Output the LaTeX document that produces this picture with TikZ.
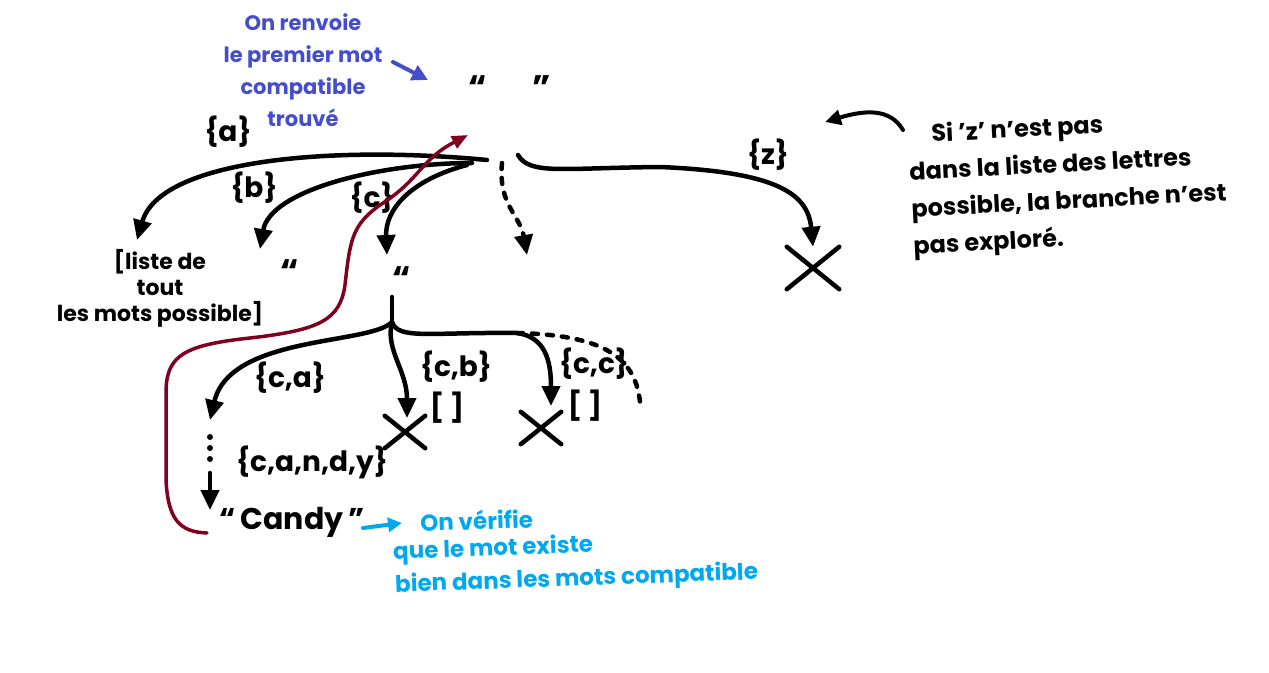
\documentclass[tikz,border=0pt]{standalone}
\usepackage{fontspec}
\setmainfont{Poppins}
\usetikzlibrary{arrows.meta,shapes.misc}
\definecolor{noteblue}{RGB}{68,78,205}
\definecolor{notecyan}{RGB}{0,168,240}
\definecolor{pathred}{RGB}{128,0,32}
\newcommand{\fs}[2]{\fontsize{#1}{#2}\selectfont\bfseries}
\tikzset{
  edge/.style={line width=4.5pt, line cap=round, -{Triangle[length=20pt,width=18pt]}},
  dotedge/.style={edge, dash pattern=on 6pt off 9pt},
  lbl/.style={font=\fs{28}{30}, inner sep=0pt},
  txt/.style={inner sep=0pt, align=center},
  cyantxt/.style={inner sep=0pt, anchor=west, rotate=2, text=notecyan, font=\fs{23}{26}},
  xmark/.style={cross out, draw, line width=4.5pt, line cap=round, inner sep=0pt},
  dotmark/.style={circle, fill, inner sep=0pt, minimum size=6pt}
}
\begin{document}
\begin{tikzpicture}[x=1pt,y=-1pt]
\useasboundingbox (0,0) rectangle (1269,672);
% root
\node[txt, font=\fs{34}{34}] (root) at (510,88) {“\hspace{46pt}”};
\coordinate (ra) at (487,160);
\coordinate (rb) at (472,163);
\coordinate (rc) at (467,165);
\coordinate (rd) at (502,163);
\coordinate (rz) at (518,155);
% children of root
\node[txt, font=\fs{22}{26}] (liste) at (160,288) {[liste de\\tout\\les mots possible]};
\coordinate (atip) at (137,240);
\node[txt, font=\fs{34}{34}] (bq) at (290,272) {“};
\coordinate (btip) at (260,249);
\node[txt, font=\fs{34}{34}] (cq) at (402,279) {“};
\coordinate (ctip) at (387,255);
\coordinate (dtip) at (527,255);
\node[xmark, minimum width=48pt, minimum height=38pt] (xz) at (813,268) {};
% labels top
\node[lbl] (la) at (228,132) {\{a\}};
\node[lbl] (lb) at (254,188) {\{b\}};
\node[lbl] (lc) at (372,198) {\{c\}};
\node[lbl] (lz) at (768,155) {\{z\}};
\draw[edge] (ra) .. controls (330,145) and (160,160) .. (atip);
\draw[edge] (rb) .. controls (380,163) and (270,190) .. (btip);
\draw[edge] (rc) .. controls (410,180) and (385,210) .. (ctip);
\draw[dotedge] (rd) .. controls (498,205) and (520,215) .. (dtip);
\draw[edge] (rz) .. controls (530,175) and (560,168) .. (660,167) .. controls (780,172) and (808,195) .. (xz.north);
% c subtree
\coordinate (ctop) at (392,297);
\coordinate (cj) at (392,322);
\draw[line width=4.5pt, line cap=round] (ctop) -- (cj);
\coordinate (catip) at (210,420);
\coordinate (cbtip) at (407,418);
\coordinate (cctip) at (551,406);
\coordinate (cdend) at (640,402);
\node[xmark, minimum width=36pt, minimum height=28pt] (xcb) at (405,432) {};
\node[xmark, minimum width=36pt, minimum height=28pt] (xcc) at (541,428) {};
\node[lbl] (bcb) at (447,408) {[ ]};
\node[lbl] (bcc) at (585,406) {[ ]};
\node[lbl] (lca) at (290,378) {\{c,a\}};
\node[lbl] (lcb) at (456,367) {\{c,b\}};
\node[lbl] (lcc) at (594,364) {\{c,c\}};
\draw[edge] (cj) .. controls (370,345) and (230,335) .. (catip);
\draw[edge] (cj) .. controls (385,350) and (407,370) .. (cbtip);
\draw[edge] (cj) .. controls (398,340) and (430,332) .. (517,333) .. controls (545,337) and (551,360) .. (cctip);
\draw[line width=4.5pt, line cap=round, dash pattern=on 6pt off 9pt] (517,333) .. controls (600,335) and (635,355) .. (cdend);
% dots and final arrow
\node[dotmark] (d1) at (210,437) {};
\node[dotmark] (d2) at (210,448) {};
\node[dotmark] (d3) at (210,459) {};
\coordinate (ftop) at (210,473);
\coordinate (ftip) at (210,510);
\draw[edge] (ftop) -- (ftip);
\node[lbl] (lcandy) at (312,462) {\{c,a,n,d,y\}};
\node[txt, font=\fs{30}{30}] (candy) at (292,522) {“\,Candy\,”};
% red path
\coordinate (rstart) at (207,533);
\coordinate (rtip) at (468,135);
\draw[pathred, line width=3.5pt, line cap=round, -{Triangle[length=16pt,width=13pt]}]
  (rstart) .. controls (180,532) and (168,520) .. (166,480)
  -- (166,390) .. controls (167,355) and (185,345) .. (250,338)
  .. controls (320,330) and (340,320) .. (345,285)
  .. controls (350,240) and (352,225) .. (380,205)
  .. controls (420,180) and (420,160) .. (rtip);
% blue note
\node[txt, text=noteblue, font=\fs{21}{32}] (renvoie) at (303,70) {On renvoie\\le premier mot\\compatible\\trouvé};
\coordinate (bl1) at (393,62);
\coordinate (bl2) at (428,80);
\draw[noteblue, line width=4pt, line cap=round, -{Triangle[length=16pt,width=16pt]}] (bl1) -- (bl2);
% right note
\node[inner sep=0pt, align=left, rotate=3, font=\fs{24}{37}] (note) at (1068,184) {\hspace{24pt}Si 'z' n'est pas\\dans la liste des lettres\\possible, la branche n'est\\pas exploré.};
\coordinate (n1) at (903,130);
\coordinate (n2) at (825,122);
\draw[line width=4pt, line cap=round, -{Triangle[length=16pt,width=15pt]}] (n1) .. controls (890,108) and (865,110) .. (n2);
% cyan note
\node[cyantxt] (verif1) at (420,522) {On vérifie};
\node[cyantxt] (verif2) at (393,553) {que le mot existe};
\node[cyantxt] (verif3) at (395,586) {bien dans les mots compatible};
\coordinate (cy1) at (363,528);
\coordinate (cy2) at (402,523);
\draw[notecyan, line width=4pt, line cap=round, -{Triangle[length=14pt,width=14pt]}] (cy1) -- (cy2);
\end{tikzpicture}
\end{document}
